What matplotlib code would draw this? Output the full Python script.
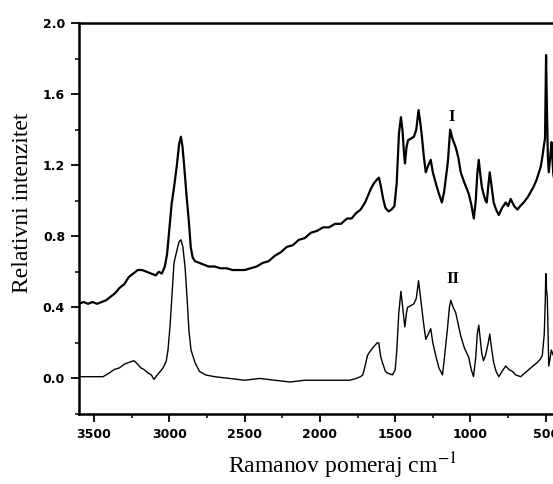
import matplotlib
matplotlib.use("Agg")
import matplotlib.pyplot as plt
from matplotlib.ticker import MultipleLocator

# Spectrum I (upper)
x_I = [3600, 3570, 3540, 3510, 3480, 3450, 3420, 3390, 3360, 3330, 3300, 3270, 3240, 3210, 3180,
       3150, 3120, 3090, 3070, 3050, 3030, 3015, 3000, 2985, 2965, 2950, 2935, 2923, 2912, 2900,
       2885, 2870, 2858, 2845, 2830, 2800, 2770, 2740, 2700, 2660, 2620, 2580, 2540, 2500, 2460,
       2420, 2380, 2340, 2300, 2260, 2220, 2180, 2140, 2100, 2060, 2020, 1980, 1940, 1900, 1860,
       1820, 1790, 1760, 1730, 1700, 1680, 1660, 1640, 1620, 1608, 1595, 1580, 1565, 1545, 1525,
       1505, 1490, 1475, 1462, 1452, 1440, 1435, 1425, 1415, 1395, 1376, 1360, 1345, 1335, 1325,
       1310, 1297, 1280, 1264, 1250, 1231, 1210, 1190, 1175, 1160, 1150, 1135, 1120, 1098, 1080,
       1065, 1040, 1012, 995, 978, 965, 955, 945, 935, 925, 914, 900, 892, 882, 872,
       860, 846, 830, 812, 790, 766, 750, 733, 710, 689, 670, 647, 620, 600, 580,
       560, 545, 534, 522, 514, 505, 498, 492, 486, 480, 470, 462, 450, 440, 430]
y_I = [0.42, 0.43, 0.42, 0.43, 0.42, 0.43, 0.44, 0.46, 0.48, 0.51, 0.53, 0.57, 0.59, 0.61, 0.61,
       0.60, 0.59, 0.58, 0.60, 0.59, 0.63, 0.70, 0.84, 0.98, 1.10, 1.20, 1.32, 1.36, 1.30, 1.18,
       1.02, 0.88, 0.74, 0.68, 0.66, 0.65, 0.64, 0.63, 0.63, 0.62, 0.62, 0.61, 0.61, 0.61, 0.62,
       0.63, 0.65, 0.66, 0.69, 0.71, 0.74, 0.75, 0.78, 0.79, 0.82, 0.83, 0.85, 0.85, 0.87, 0.87,
       0.90, 0.90, 0.93, 0.95, 0.99, 1.03, 1.07, 1.10, 1.12, 1.13, 1.08, 1.01, 0.96, 0.94, 0.95,
       0.97, 1.10, 1.38, 1.47, 1.40, 1.25, 1.21, 1.30, 1.34, 1.35, 1.36, 1.40, 1.51, 1.45, 1.38,
       1.25, 1.16, 1.20, 1.23, 1.16, 1.10, 1.04, 0.99, 1.05, 1.15, 1.22, 1.40, 1.35, 1.30, 1.24,
       1.16, 1.10, 1.04, 0.98, 0.90, 1.00, 1.15, 1.23, 1.15, 1.08, 1.04, 1.00, 0.99, 1.08, 1.16,
       1.08, 0.99, 0.95, 0.92, 0.96, 0.99, 0.97, 1.01, 0.97, 0.95, 0.97, 0.99, 1.02, 1.05, 1.08,
       1.12, 1.16, 1.19, 1.25, 1.30, 1.35, 1.82, 1.50, 1.25, 1.16, 1.25, 1.33, 1.15, 1.10, 1.12]

# Spectrum II (lower)
x_II = [3600, 3560, 3520, 3480, 3440, 3400, 3367, 3330, 3300, 3270, 3235, 3210, 3190, 3168, 3140,
        3120, 3102, 3080, 3050, 3035, 3020, 3009, 2995, 2980, 2969, 2950, 2935, 2923, 2910, 2895,
        2880, 2870, 2856, 2830, 2800, 2760, 2700, 2600, 2500, 2400, 2300, 2200, 2100, 2000, 1900,
        1800, 1760, 1730, 1715, 1700, 1684, 1660, 1642, 1620, 1609, 1596, 1585, 1565, 1551, 1518,
        1500, 1490, 1476, 1462, 1450, 1436, 1425, 1418, 1395, 1376, 1360, 1345, 1335, 1325, 1310,
        1297, 1280, 1264, 1250, 1231, 1210, 1186, 1175, 1160, 1153, 1140, 1131, 1115, 1098, 1080,
        1065, 1040, 1012, 995, 980, 965, 955, 945, 935, 925, 914, 900, 892, 882, 872,
        860, 846, 830, 812, 790, 766, 745, 722, 700, 667, 640, 613, 585, 556, 535,
        523, 510, 503, 500, 495, 490, 485, 480, 470, 463, 450, 440, 430]
y_II = [0.01, 0.01, 0.01, 0.01, 0.01, 0.03, 0.05, 0.06, 0.08, 0.09, 0.10, 0.08, 0.06, 0.05, 0.03,
        0.02, -0.005, 0.02, 0.05, 0.07, 0.10, 0.16, 0.30, 0.50, 0.65, 0.72, 0.77, 0.78, 0.74, 0.62,
        0.42, 0.27, 0.16, 0.09, 0.04, 0.02, 0.01, 0.00, -0.01, 0.00, -0.01, -0.02, -0.01, -0.01, -0.01,
        -0.01, 0.00, 0.01, 0.02, 0.07, 0.13, 0.16, 0.18, 0.20, 0.20, 0.12, 0.09, 0.04, 0.03, 0.02,
        0.05, 0.15, 0.37, 0.49, 0.40, 0.29, 0.37, 0.40, 0.41, 0.42, 0.45, 0.55, 0.48, 0.41, 0.30,
        0.22, 0.25, 0.28, 0.20, 0.13, 0.06, 0.02, 0.10, 0.22, 0.28, 0.40, 0.44, 0.40, 0.37, 0.30,
        0.24, 0.17, 0.12, 0.05, 0.01, 0.12, 0.25, 0.30, 0.22, 0.14, 0.10, 0.13, 0.16, 0.20, 0.25,
        0.17, 0.09, 0.04, 0.01, 0.04, 0.07, 0.05, 0.04, 0.02, 0.01, 0.03, 0.05, 0.07, 0.09, 0.11,
        0.13, 0.25, 0.45, 0.59, 0.50, 0.46, 0.25, 0.07, 0.12, 0.16, 0.13, 0.12, 0.14]

y_ticks = [0.0, 0.4, 0.8, 1.2, 1.6, 2.0]
x_ticks = [3500, 3000, 2500, 2000, 1500, 1000, 500]
labels_txt = ["I", "II"]
label_x = [1125, 1120]
label_y = [1.47, 0.56]

plt.rcParams['mathtext.fontset'] = 'stix'

W, H = 553, 484
fig = plt.figure(figsize=(W / 100, H / 100), dpi=100)
ax = fig.add_axes([79 / W, 1 - 414 / H, 527 / W, (414 - 23) / H])

ax.plot(x_I, y_I, color='black', lw=1.6)
ax.plot(x_II, y_II, color='black', lw=1.0)

for t, xx, yy in zip(labels_txt, label_x, label_y):
    ax.text(xx, yy, t, fontsize=12, fontweight='bold', family='Liberation Serif',
            ha='center', va='center')

ax.set_xlim(3600, 100)
ax.set_ylim(-0.2, 2.0)
ax.set_xticks(x_ticks)
ax.set_yticks(y_ticks)
ax.set_yticklabels([f"{v:.1f}" for v in y_ticks])
ax.xaxis.set_minor_locator(MultipleLocator(250))
ax.yaxis.set_minor_locator(MultipleLocator(0.2))
ax.tick_params(which='major', direction='out', length=6, width=1.3, labelsize=9, pad=4)
ax.tick_params(which='minor', direction='out', length=3, width=1.1)
for lab in ax.get_xticklabels() + ax.get_yticklabels():
    lab.set_fontweight('bold')
    lab.set_family('DejaVu Sans')

ax.spines['right'].set_visible(False)
for s in ['left', 'bottom', 'top']:
    ax.spines[s].set_linewidth(1.8)

fig.text(342 / W, 1 - 473 / H, "Ramanov pomeraj cm$^{-1}$", family='Liberation Serif',
         fontsize=17, ha='center', va='baseline')
fig.text(23 / W, 1 - 203 / H, "Relativni intenzitet", family='Liberation Serif',
         fontsize=17, ha='center', va='center', rotation=90)

fig.savefig("out.png", dpi=100)
